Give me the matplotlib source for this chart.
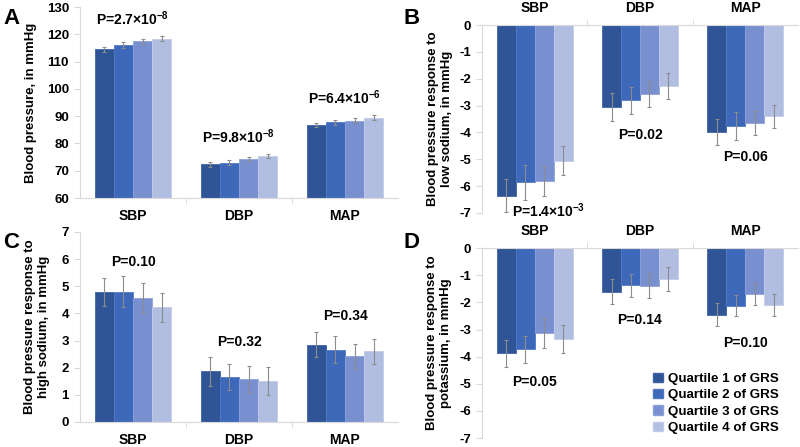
import matplotlib
matplotlib.use("Agg")
import matplotlib.pyplot as plt
import numpy as np
from matplotlib.patches import Patch

plt.rcParams['font.family'] = ['Liberation Sans', 'DejaVu Sans']
plt.rcParams['mathtext.fontset'] = 'custom'
plt.rcParams['mathtext.rm'] = 'Liberation Sans'
plt.rcParams['mathtext.bf'] = 'Liberation Sans:bold'

categories = ["SBP", "DBP", "MAP"]
quartiles = ["Quartile 1 of GRS", "Quartile 2 of GRS", "Quartile 3 of GRS", "Quartile 4 of GRS"]
colors = ["#2F5597", "#3E68BA", "#7890D0", "#B1BDE1"]
edgecolors = ["#3E63A5", "#5079C4", "#8EA2D8", "#C3CCE8"]

# values[quartile][category]
A_vals = [[114.5, 72.3, 86.7], [116.2, 73.0, 87.7], [117.5, 74.3, 88.4], [118.5, 75.4, 89.4]]
A_err = [[1.0, 0.9, 0.8], [1.0, 0.9, 0.8], [1.0, 0.9, 0.9], [1.0, 0.9, 0.9]]
B_vals = [[-6.35, -3.05, -3.98], [-5.85, -2.80, -3.77], [-5.80, -2.58, -3.65], [-5.05, -2.27, -3.40]]
B_err = [[0.6, 0.52, 0.47], [0.65, 0.5, 0.52], [0.55, 0.48, 0.45], [0.55, 0.5, 0.43]]
C_vals = [[4.78, 1.86, 2.85], [4.80, 1.66, 2.66], [4.57, 1.58, 2.42], [4.22, 1.50, 2.60]]
C_err = [[0.52, 0.52, 0.45], [0.57, 0.48, 0.50], [0.55, 0.47, 0.45], [0.55, 0.52, 0.47]]
D_vals = [[-3.87, -1.60, -2.45], [-3.73, -1.37, -2.12], [-3.13, -1.38, -1.68], [-3.35, -1.13, -2.10]]
D_err = [[0.5, 0.45, 0.42], [0.5, 0.42, 0.4], [0.55, 0.45, 0.4], [0.5, 0.45, 0.42]]

A_p = [r"P=2.7×10$^{\mathbf{-8}}$", r"P=9.8×10$^{\mathbf{-8}}$", r"P=6.4×10$^{\mathbf{-6}}$"]
B_p = [r"P=1.4×10$^{\mathbf{-3}}$", "P=0.02", "P=0.06"]
C_p = ["P=0.10", "P=0.32", "P=0.34"]
D_p = ["P=0.05", "P=0.14", "P=0.10"]

A_p_pos = [(0, 125.7), (1, 82.4), (2, 96.7)]
B_p_pos = [(0.13, -6.9), (1, -4.1), (2, -4.9)]
C_p_pos = [(0, 5.9), (1, 2.95), (2, 3.9)]
D_p_pos = [(0, -4.95), (1, -2.65), (2, -3.5)]

fig = plt.figure(figsize=(8, 4.47), dpi=100)

axA = fig.add_axes([0.100, 0.557, 0.3975, 0.427])
axB = fig.add_axes([0.6025, 0.5235, 0.395, 0.4205])
axC = fig.add_axes([0.100, 0.056, 0.3975, 0.425])
axD = fig.add_axes([0.6025, 0.020, 0.395, 0.425])

spine_col = "#D9D9D9"
bw = 0.18
x = np.arange(len(categories))
FS_TICK = 9.5
FS_CAT = 10
FS_LAB = 9.5
FS_P = 10


def panel(ax, vals, errs, ylim, yticks, ylabel, ptexts, ppos, labx, top=False):
    for j in range(4):
        ax.bar(x + (j - 1.5) * bw, vals[j], width=bw, color=colors[j],
               edgecolor=edgecolors[j], linewidth=0.6, zorder=2)
        ax.errorbar(x + (j - 1.5) * bw, vals[j], yerr=errs[j], fmt='none',
                    ecolor="#8C8C8C", elinewidth=0.8, capsize=1.5, capthick=0.8, zorder=3)
    ax.set_xlim(-0.5, 2.5)
    ax.set_ylim(*ylim)
    ax.set_yticks(yticks)
    ax.set_yticklabels([("%d" % t) for t in yticks], fontsize=FS_TICK, fontweight='bold')
    ax.set_xticks(x)
    ax.set_xticklabels(categories, fontsize=FS_CAT, fontweight='bold')
    ax.set_xticks([0.5, 1.5], minor=True)
    ax.tick_params(axis='x', which='major', length=0, pad=8)
    ax.tick_params(axis='x', which='minor', length=4, color=spine_col)
    ax.tick_params(axis='y', length=4, color=spine_col, pad=4)
    ax.spines['right'].set_visible(False)
    ax.spines['left'].set_color(spine_col)
    if top:
        ax.spines['bottom'].set_visible(False)
        ax.spines['top'].set_color(spine_col)
        ax.xaxis.tick_top()
        ax.tick_params(axis='x', which='major', length=0, pad=7)
    else:
        ax.spines['top'].set_visible(False)
        ax.spines['bottom'].set_color(spine_col)
    ax.set_ylabel(ylabel, fontsize=FS_LAB, fontweight='bold', linespacing=1.25)
    ax.yaxis.set_label_coords(labx, 0.5)
    for t, (px, py) in zip(ptexts, ppos):
        ax.text(px, py, t, ha='center', va='center', fontsize=FS_P, fontweight='bold')


panel(axA, A_vals, A_err, (60, 130), list(range(60, 131, 10)),
      "Blood pressure, in mmHg", A_p, A_p_pos, -0.135)
panel(axB, B_vals, B_err, (-7, 0), list(range(-7, 1)),
      "Blood pressure response to\nlow sodium, in mmHg", B_p, B_p_pos, -0.092, top=True)
panel(axC, C_vals, C_err, (0, 7), list(range(0, 8)),
      "Blood pressure response to\nhigh sodium, in mmHg", C_p, C_p_pos, -0.094)
panel(axD, D_vals, D_err, (-7, 0), list(range(-7, 1)),
      "Blood pressure response to\npotassium, in mmHg", D_p, D_p_pos, -0.095, top=True)

for lbl, (fx, fy) in zip("ABCD", [(0.004, 0.982), (0.504, 0.982), (0.004, 0.482), (0.504, 0.480)]):
    fig.text(fx, fy, lbl, fontsize=16, fontweight='bold', ha='left', va='top')

handles = [Patch(facecolor=colors[j], edgecolor=edgecolors[j]) for j in range(4)]
fig.legend(handles, quartiles, loc='lower right', bbox_to_anchor=(0.985, 0.008),
           frameon=False, handlelength=0.7, handleheight=0.7, handletextpad=0.4,
           labelspacing=0.3, borderpad=0.2, prop={'size': 9.6, 'weight': 'bold'})

fig.savefig("out.png", dpi=100)
